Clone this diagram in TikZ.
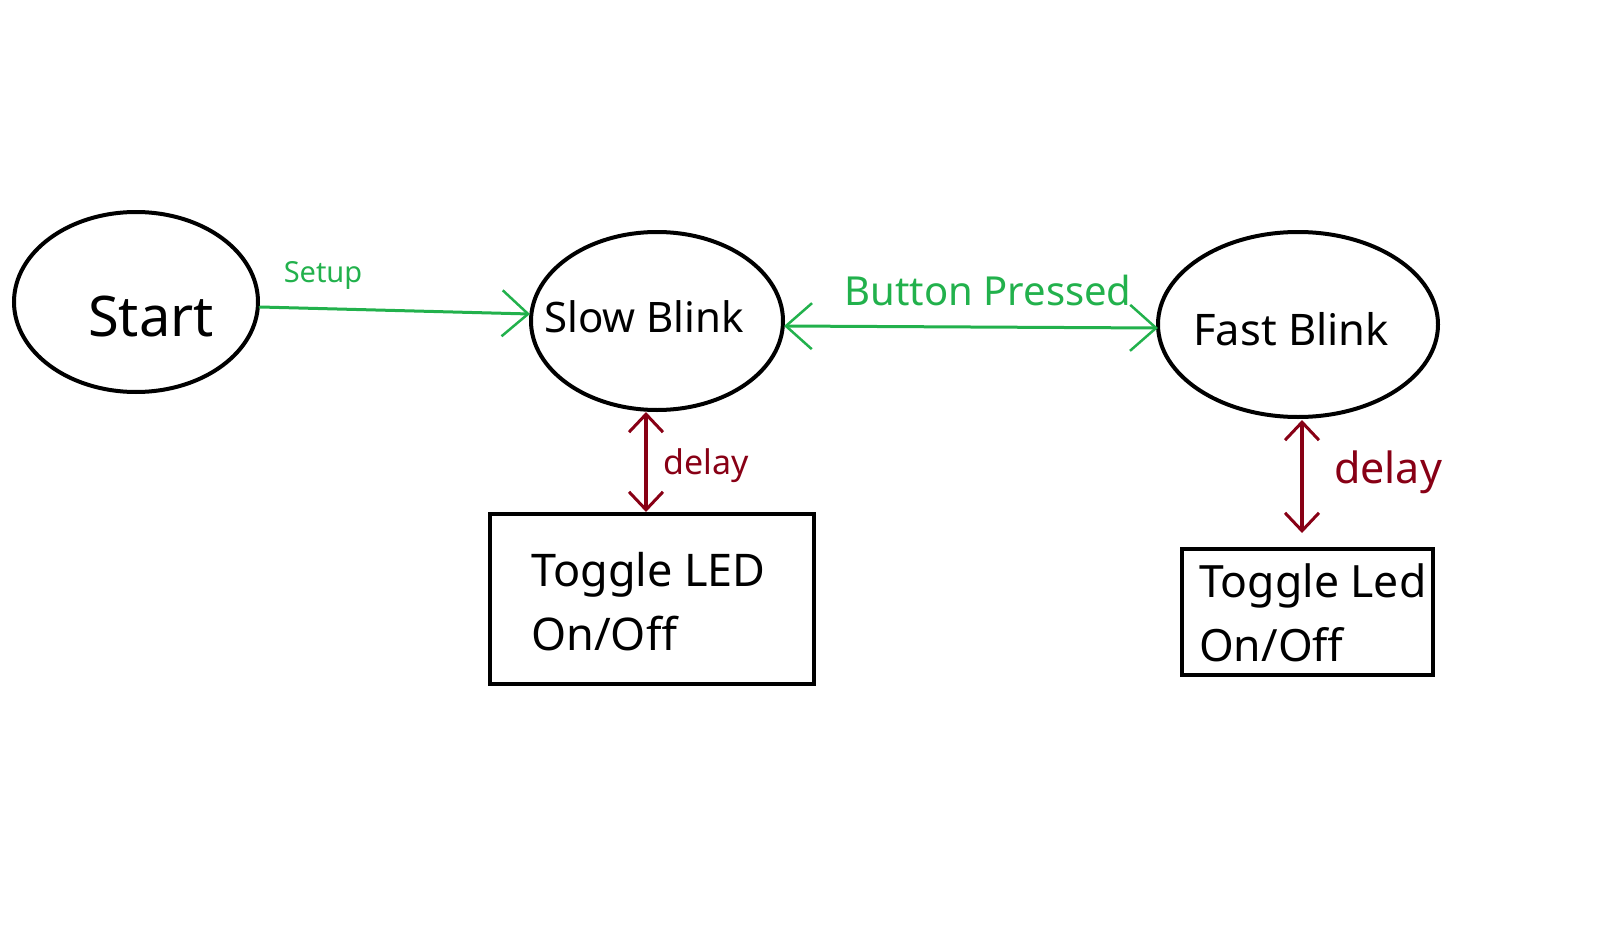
\documentclass[tikz,border=0pt]{standalone}
\usepackage{fontspec}
\setmainfont{Noto Sans}
\usetikzlibrary{shapes.geometric,arrows.meta}
\definecolor{penGreen}{RGB}{34,177,76}
\definecolor{penRed}{RGB}{136,0,21}
\tikzset{
  state/.style={ellipse, draw, line width=4pt, inner sep=0pt},
  tbox/.style={rectangle, draw, line width=4pt, inner sep=0pt},
  txt/.style={anchor=base west, inner sep=0pt},
  pen/.style={line width=3pt, line cap=round, line join=round},
  go/.style={pen, penGreen, -{Straight Barb[length=26pt,width=46pt,line width=2.5pt]}},
  gogo/.style={pen, penGreen, {Straight Barb[length=26pt,width=46pt,line width=2.5pt]}-{Straight Barb[length=26pt,width=46pt,line width=2.5pt]}},
  back/.style={pen, penRed, line width=3.5pt, {Straight Barb[length=18pt,width=34pt,line width=3pt]}-{Straight Barb[length=18pt,width=34pt,line width=3pt]}}
}
\begin{document}
\begin{tikzpicture}[x=1pt,y=-1pt]
\path[use as bounding box] (0,0) rectangle (1607,931);
% states
\node[state, minimum width=244pt, minimum height=180pt] (start) at (136,302){};
\node[state, minimum width=252pt, minimum height=178pt] (slow) at (657,321){};
\node[state, minimum width=280pt, minimum height=185pt] (fast) at (1298,324.5){};
\node[txt, font=\fontsize{56}{58}\selectfont] (tstart) at (88,336){Start};
\node[txt, font=\fontsize{42}{44}\selectfont] (tslow) at (544,332){Slow Blink};
\node[txt, font=\fontsize{43.5}{45}\selectfont] (tfast) at (1193,345){Fast Blink};
% toggle boxes
\node[tbox, minimum width=324pt, minimum height=170pt] (tog1) at (652,599){};
\node[tbox, minimum width=251pt, minimum height=126pt] (tog2) at (1307.5,612){};
\node[txt, font=\fontsize{45}{47}\selectfont] (ttog1a) at (531,586){Toggle LED};
\node[txt, font=\fontsize{45}{47}\selectfont] (ttog1b) at (531,650){On/Off};
\node[txt, font=\fontsize{44.5}{46}\selectfont] (ttog2a) at (1199,597){Toggle Led};
\node[txt, font=\fontsize{44.5}{46}\selectfont] (ttog2b) at (1199,661){On/Off};
% transitions
\coordinate (s0) at (257,307);
\coordinate (s1) at (530,314);
\draw[go] (start.east |- s0) -- (s1);
\node[penGreen, font=\fontsize{29}{30}\selectfont] (lsetup) at (323,275){Setup};
\coordinate (b0) at (784,326);
\coordinate (b1) at (1158,328);
\draw[gogo] (b0) -- (b1);
\node[penGreen, font=\fontsize{40}{42}\selectfont] (lbutton) at (988,290){Button Pressed};
\coordinate (d0) at (646,412);
\coordinate (d1) at (646,512);
\draw[back] (d0) -- (d1);
\node[penRed, font=\fontsize{34}{36}\selectfont] (ldelay1) at (706,466){delay};
\coordinate (e0) at (1302,420);
\coordinate (e1) at (1302,533);
\draw[back] (e0) -- (e1);
\node[penRed, font=\fontsize{43}{45}\selectfont] (ldelay2) at (1388,472){delay};
\end{tikzpicture}
\end{document}
